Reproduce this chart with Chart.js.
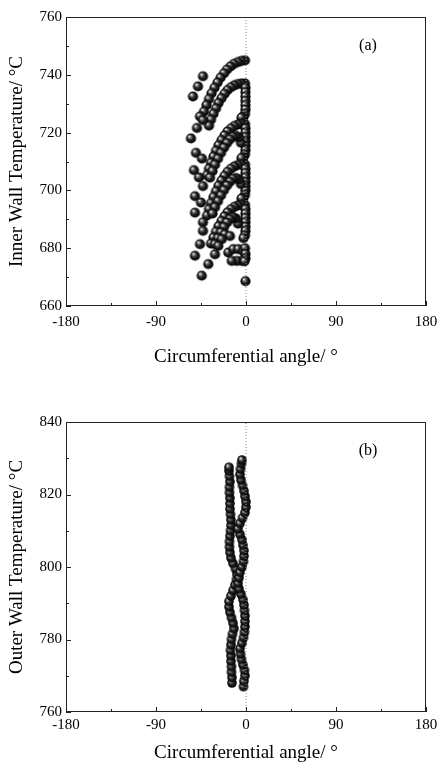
<!DOCTYPE html>
<html>
<head>
<meta charset="utf-8">
<script src="https://cdn.jsdelivr.net/npm/chart.js@4.4.0/dist/chart.umd.min.js"></script>
<style>
  html, body { margin: 0; padding: 0; background: #fff; }
  .panel { position: absolute; left: 0; width: 439px; height: 385px; }
</style>
</head>
<body>
<div class="panel" style="top:0"><canvas id="chartA" width="439" height="385"></canvas></div>
<div class="panel" style="top:385px"><canvas id="chartB" width="439" height="385"></canvas></div>
<script>
// tick values
const xTicks = [-180, -90, 0, 90, 180];
const xMinor = [-135, -45, 45, 135];
const innerTicks = [660, 680, 700, 720, 740, 760];
const innerMinor = [670, 690, 710, 730, 750];
const outerTicks = [760, 780, 800, 820, 840];
const outerMinor = [770, 790, 810, 830];

// (a) inner wall: [angle, temperature]
const innerWall = [
  // top arc
  [-1,745],[-4.5,744.8],[-8,744.4],[-12,743.8],[-15.5,742.9],[-19,741.8],[-22,740.5],[-25.5,739],
  [-28.5,737.3],[-31.5,735.5],[-34.5,733.6],[-37,731.6],[-39.5,729.5],[-42,727.3],
  [-43,739.5],[-48,736],[-53,732.5],
  // hook 737
  [-1,737],[-4.5,737],[-8,736.8],[-11.5,736.4],[-15,735.7],[-18.5,734.7],[-21.5,733.4],[-24.5,731.9],
  [-27.5,730.2],[-30,728.4],[-32.5,726.5],[-35,724.5],[-37,722.4],
  [-0.5,735.5],[-0.5,734],[-0.5,732.5],[-0.5,731],[-0.5,729.5],[-0.5,728],[-1,726.5],[-2.5,725.5],[-4.5,725.2],
  [-46,725.6],[-43,724.3],[-49,721.6],[-55,718],
  // hook 723
  [-1,723],[-4.5,723],[-8,722.8],[-11.5,722.3],[-15,721.5],[-18.5,720.4],[-21.5,719],[-24.5,717.4],
  [-27.5,715.6],[-30,713.7],[-32.5,711.7],[-35,709.6],[-37,707.5],[-39,705.3],
  [-0.5,721.5],[-0.5,720],[-0.5,718.5],[-0.5,717],[-0.5,715.5],[-0.5,714],[-1,712.5],[-2.5,711.5],[-4.5,711.2],
  [-5,716.5],[-7,718.3],[-10,718.9],[-13,718.6],[-16,717.7],[-19,716.4],[-22,714.8],[-25,713],
  [-28,711],[-31,708.9],[-33.5,706.7],[-36,704.4],
  [-50,713],[-44,711],[-52,707],[-47,704.5],[-43,701.5],
  // hook 709
  [-1,709],[-4.5,709],[-8,708.8],[-11.5,708.3],[-15,707.5],[-18.5,706.4],[-21.5,705],[-24.5,703.4],
  [-27.5,701.6],[-30,699.7],[-32.5,697.7],[-35,695.6],[-37,693.5],[-39,691.3],
  [-0.5,707.5],[-0.5,706],[-0.5,704.5],[-0.5,703],[-0.5,701.5],[-0.5,700],[-1,698.5],[-2.5,697.5],[-4.5,697.2],
  [-5,702.2],[-7,703.8],[-10,704.3],[-13,704],[-16,703],[-19,701.7],[-22,700.1],[-25,698.3],
  [-28,696.3],[-31,694.2],[-33.5,692],
  [-51,698],[-45,695.8],[-51,692.3],[-43,689],
  // hook 695
  [-1,695],[-4.5,695],[-8,694.8],[-11.5,694.3],[-15,693.5],[-18.5,692.4],[-21.5,691],[-24.5,689.4],
  [-27.5,687.6],[-30,685.7],[-32.5,683.7],[-35,681.6],
  [-0.5,693.5],[-0.5,692],[-0.5,690.5],[-0.5,689],[-0.5,687.5],[-0.5,686],[-1,684.5],[-2.5,683.5],
  [-8,688.5],[-10,690.3],[-13,690.7],[-16,690.1],[-19,688.9],[-22,687.3],[-25,685.5],[-28,683.5],[-31,681.4],
  [-21,684.8],[-16,684.2],[-24.3,683.1],
  [-43,686],[-46,681.4],[-51,677.4],[-27.7,680.8],[-31,677.9],[-37.7,674.5],[-44.3,670.5],
  // loop 680
  [-17.7,678.5],[-12.7,679.7],[-7.7,679.7],[-2.7,679],[-1,680],[-0.5,678],[-0.5,676.5],
  [-4.3,675.6],[-9.3,675.6],[-14.3,675.6],[-1.5,675.5],
  [-0.5,668.6]
];

// (b) outer wall, two strands: [angle, temperature]
const outerLeft = [
  [-14,768],[-14,769.5],[-14.5,771],[-14.5,772.5],[-15,774],[-15,775.5],[-15.5,777],[-15,778.5],
  [-14.5,780],[-13.5,781.5],[-12,783],[-13,784.5],[-14.5,786],[-16,787.5],[-17,789],[-17,790.5],
  [-15,792],[-13,793.5],[-11,795],[-9.5,796.5],[-9,798],[-10.5,799.5],[-13,801],[-15,802.5],
  [-16,804],[-16.5,805.5],[-16.5,807],[-16,808.5],[-15.5,810],[-15,811.5],[-15,813],[-15.5,814.5],
  [-16,816],[-16,817.5],[-16,819],[-16.5,820.5],[-16.5,822],[-16,823.5],[-16.5,825],[-17,826.5],[-17,827.5]
];
const outerRight = [
  [-2.5,767],[-2,768.5],[-1,770],[-1.5,771.5],[-3,773],[-4.5,774.5],[-5.5,776],[-6,777.5],
  [-4,779],[-2.5,780.5],[-1.5,782],[-1,783.5],[-1,785],[-1,786.5],[-1.5,788],[-2,789.5],
  [-3,791],[-5,792.5],[-7,794],[-8,795.5],[-7,797],[-6,798.5],[-4,800],[-2.5,801.5],
  [-2,803],[-2,804.5],[-3,806],[-4,807.5],[-6,809],[-8,810.5],[-6,812],[-3.5,813.5],
  [-1,815],[0,816.5],[0,818],[-1,819.5],[-2,821],[-3.5,822.5],[-5,824],[-6,825.5],
  [-5.5,827],[-4.5,828.5],[-4,829.5]
];

const FONT = "'Liberation Serif', 'Times New Roman', serif";

function makeBall(r) {
  const c = document.createElement('canvas');
  const s = Math.ceil(r * 2) + 2;
  c.width = c.height = s;
  const g = c.getContext('2d');
  const m = s / 2;
  const grd = g.createRadialGradient(m - r * 0.35, m - r * 0.4, r * 0.05, m, m, r);
  grd.addColorStop(0, '#f2f2f2');
  grd.addColorStop(0.2, '#909090');
  grd.addColorStop(0.5, '#262626');
  grd.addColorStop(1, '#000');
  g.fillStyle = grd;
  g.beginPath();
  g.arc(m, m, r, 0, Math.PI * 2);
  g.fill();
  return c;
}

// frame + inward ticks + panel letter
const frameTicks = {
  id: 'frameTicks',
  afterDraw(chart, args, o) {
    const { ctx, chartArea: a, scales: { x, y } } = chart;
    ctx.save();
    ctx.strokeStyle = '#222';
    ctx.lineWidth = 1;
    ctx.strokeRect(a.left + 0.5, a.top + 0.5, a.right - a.left - 1, a.bottom - a.top - 1);
    ctx.beginPath();
    const tx = (v, len) => {
      const p = Math.round(x.getPixelForValue(v)) + 0.5;
      ctx.moveTo(p, a.bottom); ctx.lineTo(p, a.bottom - len);
    };
    const ty = (v, len) => {
      const p = Math.round(y.getPixelForValue(v)) + 0.5;
      ctx.moveTo(a.left, p); ctx.lineTo(a.left + len, p);
    };
    xTicks.forEach(v => tx(v, 5));
    xMinor.forEach(v => tx(v, 3));
    o.yMajor.forEach(v => ty(v, 5));
    o.yMinor.forEach(v => ty(v, 3));
    ctx.stroke();
    ctx.fillStyle = '#000';
    ctx.font = '16px ' + FONT;
    ctx.textAlign = 'center';
    ctx.textBaseline = 'middle';
    ctx.fillText(o.label, a.left + 302, a.top + 29);
    ctx.restore();
  }
};

function makeChart(id, cfg) {
  const pts = cfg.points.map(([x, y]) => ({ x, y }));
  return new Chart(document.getElementById(id), {
    type: 'scatter',
    data: {
      datasets: [
        {
          type: 'line',
          data: [{ x: 0, y: cfg.yMin }, { x: 0, y: cfg.yMax }],
          borderColor: '#8a8a8a',
          borderWidth: 1,
          borderDash: [1, 2],
          pointRadius: 0,
          order: 0
        },
        {
          data: pts,
          pointStyle: makeBall(cfg.r),
          pointRadius: cfg.r,
          order: 1
        }
      ]
    },
    options: {
      responsive: false,
      animation: false,
      layout: { padding: { top: cfg.top, right: 13, left: 0, bottom: 0 } },
      plugins: {
        legend: { display: false },
        tooltip: { enabled: false },
        frameTicks: { yMajor: cfg.yTicks, yMinor: cfg.yMinor, label: cfg.label }
      },
      scales: {
        x: {
          type: 'linear', min: -180, max: 180,
          afterBuildTicks: s => { s.ticks = xTicks.map(v => ({ value: v })); },
          afterFit: s => { s.height = cfg.xHeight; s.paddingLeft = 0; s.paddingRight = 0; },
          grid: { display: false, drawTicks: false },
          border: { display: false },
          ticks: { color: '#000', font: { family: FONT, size: 15 }, padding: cfg.tickPad, maxRotation: 0 },
          title: {
            display: true, text: 'Circumferential angle/ °', color: '#000',
            font: { family: FONT, size: 19 }, padding: { top: 0, bottom: cfg.titleBottom }
          }
        },
        y: {
          type: 'linear', min: cfg.yMin, max: cfg.yMax,
          afterBuildTicks: s => { s.ticks = cfg.yTicks.map(v => ({ value: v })); },
          afterFit: s => { s.width = 66; s.paddingTop = 0; s.paddingBottom = 0; },
          grid: { display: false, drawTicks: false },
          border: { display: false },
          ticks: { color: '#000', font: { family: FONT, size: 15 }, padding: 4 },
          title: {
            display: true, text: cfg.yTitle, color: '#000',
            font: { family: FONT, size: 19 }, padding: { top: 6, bottom: 0 }
          }
        }
      }
    },
    plugins: [frameTicks]
  });
}

makeChart('chartA', {
  points: innerWall, yMin: 660, yMax: 760, yTicks: innerTicks, yMinor: innerMinor, r: 5.1,
  yTitle: 'Inner Wall Temperature/ °C', label: '(a)', top: 17, xHeight: 79, titleBottom: 17, tickPad: 7
});
makeChart('chartB', {
  points: outerLeft.concat(outerRight), yMin: 760, yMax: 840, yTicks: outerTicks, yMinor: outerMinor, r: 4.8,
  yTitle: 'Outer Wall Temperature/ °C', label: '(b)', top: 37, xHeight: 58, titleBottom: 6, tickPad: 4
});
</script>
</body>
</html>
